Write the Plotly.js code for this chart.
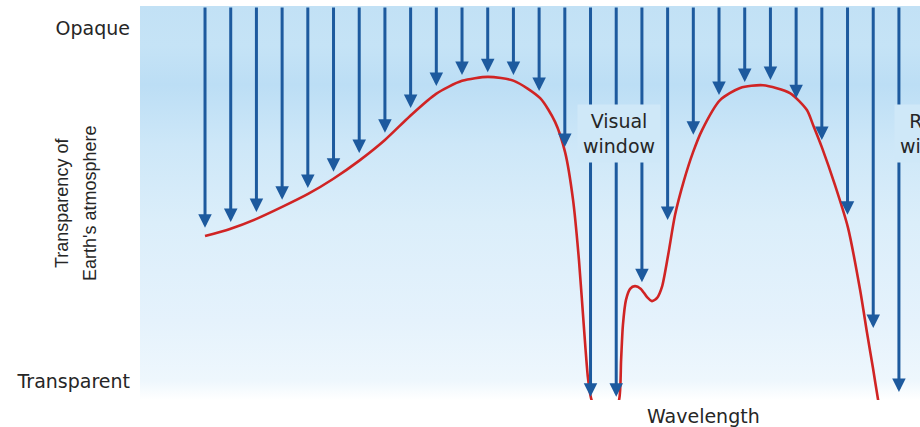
<!DOCTYPE html>
<html><head><meta charset="utf-8">
<script src="https://cdn.plot.ly/plotly-3.0.1.min.js"></script>
<style>html,body{margin:0;padding:0;background:#fff;} #chart{width:920px;height:427px;}</style>
</head><body><div id="chart"></div>
<script>
// Incoming radiation arrows: wavelength position (arbitrary units) and where each one stops (opacity, 0-100)
const arrowX   = [0,1,2,3,4,5,6,7,8,9,10,11,12,13,14,15,16,17,18,19,20,21,22,23,24,25,26,27];
const arrowTip = [43.7,45.2,47.7,50.8,53.8,57.9,62.7,67.8,74.1,79.7,82.5,83.2,82.5,78.4,64.2,0.8,0.8,29.9,45.7,67.3,77.4,80.7,81.2,76.6,66.0,47.0,18.3,2.0];
const arrowTop = 100;

// Atmospheric opacity curve
const curveX = [0,0.97,1.98,3.0,4.01,4.98,5.99,7.0,7.98,8.99,10.0,11.01,12.02,13.04,13.62,14.01,14.32,14.55,14.75,14.9,15.02,15.37,15.76,16.11,16.19,16.26,16.38,16.54,16.73,16.96,17.2,17.39,17.59,17.78,18.02,18.29,18.64,18.99,19.34,20.04,20.82,21.71,22.76,23.42,23.66,24.01,24.51,25.02,25.49,25.76,25.99,26.19,26.34];
const curveY = [41.6,43.4,45.9,49.0,52.3,56.1,60.7,66.0,72.1,77.7,81.0,82.0,81.0,76.6,70.6,62.9,50.8,35.5,17.8,5.6,0.5,-5.1,-5.1,0,10.2,19.0,25.4,28.2,28.9,28.2,26.1,25.1,25.9,28.7,36.8,47.0,55.8,62.9,68.5,76.1,79.2,79.9,77.9,73.6,69.8,64.0,54.6,43.7,27.9,17.0,8.1,0,-5.1];

const xRange = [-2.53, 27.82];
const yRange = [0, 100];
const yTickVals = [94.4, 4.8];
const yTickText = ['Opaque', 'Transparent'];
const yTitleLines = ['Transparency of', "Earth's atmosphere"];
const xTitle = 'Wavelength';
const windowLabels = ['Visual<br>window', 'Radio<br>window'];

const horizFont = {family: 'DejaVu Sans, Verdana, sans-serif', size: 19, color: '#262626'};
const vertFont = {family: 'Liberation Sans, Arial, sans-serif', size: 18, color: '#262626'};

const traces = [
  { // sky background
    x: [xRange[0], xRange[1], xRange[1], xRange[0], xRange[0]],
    y: [yRange[0], yRange[0], yRange[1], yRange[1], yRange[0]],
    mode: 'lines', line: {width: 0}, fill: 'toself',
    fillgradient: {type: 'vertical', colorscale: [
      [0, '#ffffff'], [0.05, '#eef7fd'], [0.2, '#e5f2fc'], [0.45, '#dbeefa'],
      [0.65, '#cde7f8'], [0.8, '#bcdef5'], [0.9, '#c5e3f6'], [1, '#c2e1f5']]},
    hoverinfo: 'skip', showlegend: false
  },
  {
    x: curveX, y: curveY, mode: 'lines',
    line: {color: '#d02424', width: 2.6, shape: 'spline', smoothing: 0.7},
    hoverinfo: 'skip', showlegend: false
  }
];

const annotations = arrowX.map((x, i) => ({
  x: x, y: arrowTip[i], xref: 'x', yref: 'y',
  ax: x, ay: arrowTop, axref: 'x', ayref: 'y',
  text: '', showarrow: true, arrowhead: 2, arrowsize: 0.9, arrowwidth: 3,
  arrowcolor: '#1d5a9e', standoff: 0
}));

annotations.push(
  {x: 16.11, y: 67.7, xref: 'x', yref: 'y', text: windowLabels[0], showarrow: false,
   xanchor: 'center', yanchor: 'middle',
   font: horizFont, bgcolor: '#cfe8f8', borderpad: 5, align: 'center'},
  {x: 1.0205, y: 67.7, xref: 'paper', yref: 'y', text: windowLabels[1], showarrow: false,
   xanchor: 'center', yanchor: 'middle',
   font: horizFont, bgcolor: '#cfe8f8', borderpad: 5, align: 'center'},
  {x: 19.38, y: -0.041, xref: 'x', yref: 'paper', text: xTitle, showarrow: false,
   xanchor: 'center', yanchor: 'middle', font: horizFont},
  {x: -0.1, y: 0.5, xref: 'paper', yref: 'paper', text: yTitleLines[0], showarrow: false,
   xanchor: 'center', yanchor: 'middle', textangle: -90, font: vertFont},
  {x: -0.0641, y: 0.5, xref: 'paper', yref: 'paper', text: yTitleLines[1], showarrow: false,
   xanchor: 'center', yanchor: 'middle', textangle: -90, font: vertFont}
);

const layout = {
  width: 920, height: 427,
  margin: {l: 140, r: 0, t: 6, b: 27, pad: 0},
  paper_bgcolor: '#ffffff', plot_bgcolor: '#ffffff',
  showlegend: false,
  xaxis: {range: xRange, visible: false, fixedrange: true},
  yaxis: {range: yRange, showgrid: false, zeroline: false, showline: false,
          tickvals: yTickVals, ticktext: yTickText, ticks: '', ticklabelstandoff: 9,
          tickfont: horizFont, fixedrange: true},
  annotations: annotations
};

Plotly.newPlot('chart', traces, layout, {displayModeBar: false, staticPlot: true});
</script>
</body></html>
